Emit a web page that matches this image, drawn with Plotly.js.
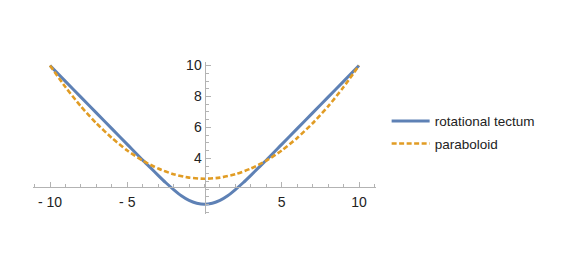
<!DOCTYPE html>
<html>
<head>
<meta charset="utf-8">
<script src="https://cdn.plot.ly/plotly-3.0.1.min.js"></script>
<style>html,body{margin:0;padding:0;background:#fff;}#chart{width:572px;height:272px;}</style>
</head>
<body>
<div id="chart"></div>
<script>
// Rotational tectum (blue, solid)
const tectumX = [-10, -9, -8, -7, -6, -5, -4, -3.5, -3, -2.5, -2, -1.5, -1, -0.5, 0, 0.5, 1, 1.5, 2, 2.5, 3, 3.5, 4, 5, 6, 7, 8, 9, 10];
const tectumY = [10, 8.98, 7.96, 6.94, 5.92, 4.9, 3.88, 3.4, 2.9, 2.42, 1.98, 1.58, 1.28, 1.1, 1.03, 1.1, 1.28, 1.58, 1.98, 2.42, 2.9, 3.4, 3.88, 4.9, 5.92, 6.94, 7.96, 8.98, 10];
// Paraboloid (orange, dashed)
const paraX = [-10, -9, -8, -7, -6, -5, -4, -3, -2, -1, 0, 1, 2, 3, 4, 5, 6, 7, 8, 9, 10];
const paraY = [10, 8.61, 7.36, 6.27, 5.32, 4.51, 3.85, 3.34, 2.97, 2.75, 2.68, 2.75, 2.97, 3.34, 3.85, 4.51, 5.32, 6.27, 7.36, 8.61, 10];
// Tick labels
const xTickVals = [-10, -5, 5, 10];
const xTickText = ["- 10", "- 5", "5", "10"];
const yTickVals = [4, 6, 8, 10];
const yTickText = ["4", "6", "8", "10"];
const seriesNames = ["rotational tectum", "paraboloid"];

const axisColor = "#b3b3b3";
const font = {family: "Liberation Sans, Arial, sans-serif", size: 13.5, color: "#222"};
const tickFont = {family: "Liberation Sans, Arial, sans-serif", size: 14, color: "#222"};

const traces = [
  {x: tectumX, y: tectumY, name: seriesNames[0], type: "scatter", mode: "lines",
   line: {color: "#5E81B5", width: 3, shape: "spline", smoothing: 0.6}, legendgroup: "a"},
  {x: paraX, y: paraY, name: seriesNames[1], type: "scatter", mode: "lines",
   line: {color: "#E19C24", width: 2.6, dash: "5px,2.5px", shape: "spline", smoothing: 0.6}, legendgroup: "b"}
];

const layout = {
  width: 572, height: 272,
  margin: {l: 33, r: 196, t: 62, b: 58},
  paper_bgcolor: "#fff", plot_bgcolor: "#fff",
  font: font,
  showlegend: true,
  legend: {x: 1.031, xanchor: "left", y: 0.535, yanchor: "middle", font: font,
           itemwidth: 38,
           traceorder: "grouped", tracegroupgap: 2, bgcolor: "rgba(0,0,0,0)"},
  xaxis: {
    range: [-11.1, 11.1], anchor: "free", position: 0.176,
    showgrid: false, zeroline: false, showline: true, linecolor: axisColor, linewidth: 1,
    tickmode: "array", tickvals: xTickVals, ticktext: xTickText,
    ticks: "inside", ticklen: 5, tickcolor: axisColor, tickwidth: 1, ticklabelstandoff: 2,
    minor: {tickmode: "linear", tick0: 0, dtick: 1, ticks: "inside", ticklen: 3, tickcolor: axisColor, showgrid: false},
    tickfont: tickFont, fixedrange: true
  },
  yaxis: {
    range: [0.40, 10.23], anchor: "free", position: 0.5,
    showgrid: false, zeroline: false, showline: true, linecolor: axisColor, linewidth: 1,
    tickmode: "array", tickvals: yTickVals, ticktext: yTickText,
    ticks: "inside", ticklen: 5, tickcolor: axisColor, tickwidth: 1,
    minor: {tickmode: "linear", tick0: 0, dtick: 0.5, ticks: "inside", ticklen: 3, tickcolor: axisColor, showgrid: false},
    tickfont: tickFont, fixedrange: true
  }
};

Plotly.newPlot("chart", traces, layout, {displayModeBar: false, staticPlot: true});
</script>
</body>
</html>
